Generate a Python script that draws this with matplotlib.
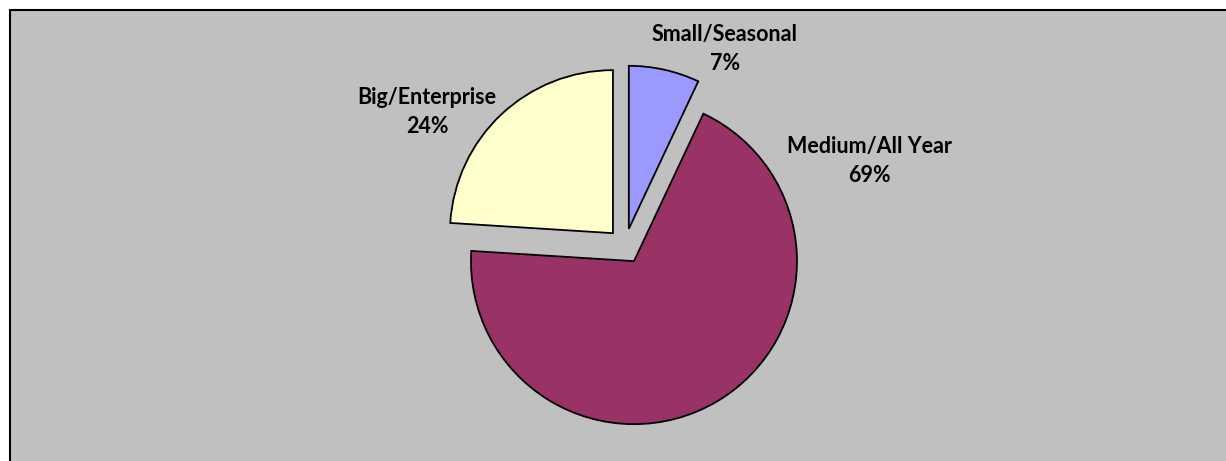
import matplotlib
matplotlib.use("Agg")
import matplotlib.pyplot as plt
from matplotlib.patches import Rectangle

# business size split
segments = ["Small/Seasonal", "Medium/All Year", "Big/Enterprise"]
shares = [7, 69, 24]
colors = ["#9999FF", "#993366", "#FFFFCC"]

W, H = 1226, 461
# pixel layout (y measured up from the bottom)
pie_center = (625, 215)
pie_radius = 163
gap = 17.6  # every slice pulled out by the same amount, in pixels
label_pos = [(725, 412), (869, 300), (427, 349)]

fig = plt.figure(figsize=(W / 100.0, H / 100.0), dpi=100, facecolor="white")
ax = fig.add_axes([0, 0, 1, 1])

# explode is in data units, not a fraction of the radius
ax.pie(shares, colors=colors, startangle=90, counterclock=False,
       center=pie_center, radius=pie_radius,
       explode=[gap] * len(shares), normalize=True,
       wedgeprops=dict(edgecolor="black", linewidth=1.3))

ax.set_xlim(0, W)
ax.set_ylim(0, H)
ax.set_aspect("auto")
ax.axis("off")

# chart area with its frame
ax.add_patch(Rectangle((10, -20), W + 20, H - 10 + 20, facecolor="#C0C0C0",
                       edgecolor="black", linewidth=1.5, zorder=0))

for name, val, (x, y) in zip(segments, shares, label_pos):
    ax.text(x, y, "%s\n%d%%" % (name, val), ha="center", va="center",
            fontsize=15.5, fontweight="bold", family="Lato",
            linespacing=1.42, color="black")

fig.savefig("out.png", dpi=100, facecolor="white")
